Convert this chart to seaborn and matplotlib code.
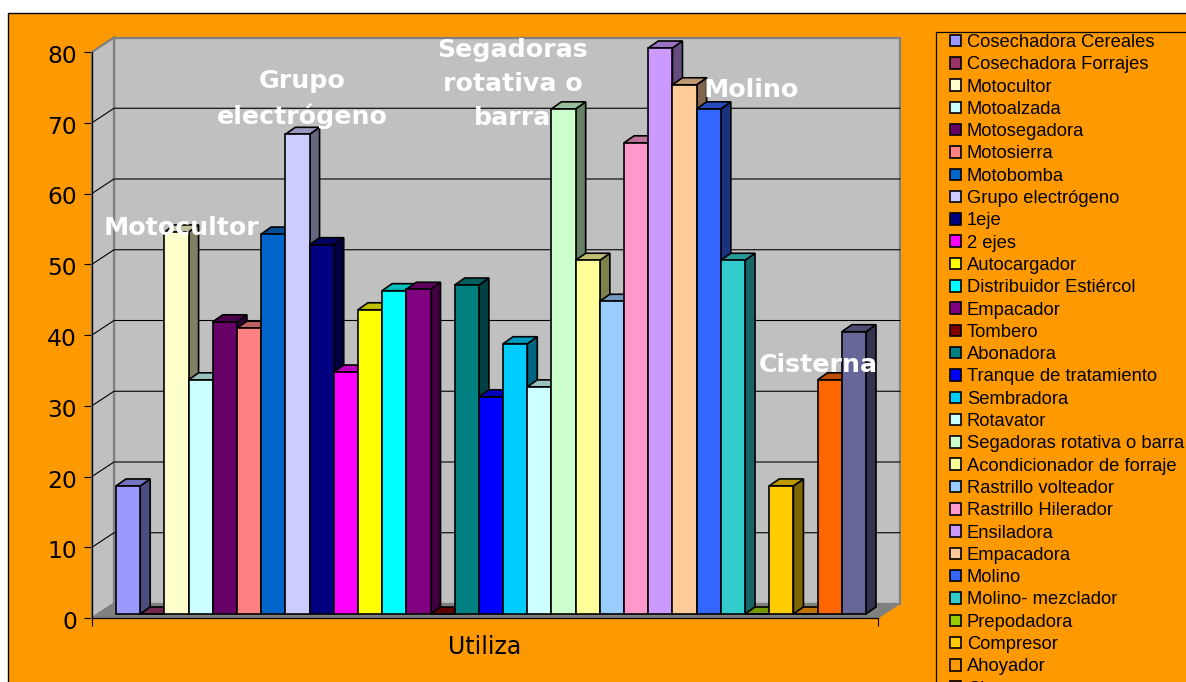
import matplotlib
matplotlib.use("Agg")
import matplotlib.pyplot as plt
from matplotlib.patches import Polygon, Rectangle
from matplotlib.transforms import Affine2D
import pandas as pd
import seaborn as sns

machines = ["Cosechadora Cereales", "Cosechadora Forrajes", "Motocultor", "Motoalzada",
            "Motosegadora", "Motosierra", "Motobomba", "Grupo electrógeno", "1eje", "2 ejes",
            "Autocargador", "Distribuidor Estiércol", "Empacador", "Tombero", "Abonadora",
            "Tranque de tratamiento", "Sembradora", "Rotavator", "Segadoras rotativa o barra",
            "Acondicionador de forraje", "Rastrillo volteador", "Rastrillo Hilerador",
            "Ensiladora", "Empacadora", "Molino", "Molino- mezclador", "Prepodadora",
            "Compresor", "Ahoyador", "Cisterna", "Peladora de Almendras"]
values = [18.1, 0, 54, 33.1, 41.3, 40.4, 53.7, 67.8, 52.2, 34.2, 43, 45.7, 45.9, 0, 46.5,
          30.7, 38.2, 32.1, 71.4, 50, 44.2, 66.6, 80, 74.8, 71.4, 50, 0, 18.1, 0, 33.1, 39.9]
colors = ["#9999FF", "#993366", "#FFFFCC", "#CCFFFF", "#660066", "#FF8080", "#0066CC", "#CCCCFF",
          "#000080", "#FF00FF", "#FFFF00", "#00FFFF", "#800080", "#800000", "#008080", "#0000FF",
          "#00CCFF", "#CCFFFF", "#CCFFCC", "#FFFF99", "#99CCFF", "#FF99CC", "#CC99FF", "#FFCC99",
          "#3366FF", "#33CCCC", "#99CC00", "#FFCC00", "#FF9900", "#FF6600", "#666699"]
group_label = "Utiliza"
y_ticks = list(range(0, 90, 10))

W, H = 1186, 682
ORANGE = "#FF9900"
GREY = "#C0C0C0"
DARK = "#808080"

sns.set_theme(style="white")
fig = plt.figure(figsize=(W / 100, H / 100), dpi=100, facecolor="white")
fig.add_artist(Rectangle((8 / W, -0.05), 1.1, (682 - 13) / H + 0.05, transform=fig.transFigure,
                         facecolor=ORANGE, edgecolor="black", linewidth=1.0, zorder=-5))
fig.add_artist(Rectangle((936 / W, -0.05), 0.3, (682 - 32) / H + 0.05, transform=fig.transFigure,
                         facecolor="none", edgecolor="black", linewidth=0.9, zorder=-4))

ax = fig.add_axes([92 / W, (H - 618) / H, 786 / W, 566 / H])
ax.set_facecolor("none")

df = pd.DataFrame({"group": [group_label] * len(machines), "machine": machines, "value": values})
sns.barplot(data=df, x="group", y="value", hue="machine", hue_order=machines, palette=colors,
            width=750 / 786, saturation=1, errorbar=None, ax=ax, legend=True)

ax.set_xlim(-0.5, 0.5)
ax.set_ylim(0, 80)
px_x, px_y = 1 / 786, 80 / 566  # data units per pixel

# wall and floor of the pseudo 3D box
wx, wy = 22 * px_x, 14.5 * px_y
ax.add_patch(Rectangle((-0.5 + wx, wy), 1, 80, facecolor=GREY, edgecolor=DARK, linewidth=1.6,
                       zorder=0.5, clip_on=False))
ax.add_patch(Polygon([(-0.5, 0), (-0.5 + wx, wy), (-0.5 + wx, 80 + wy), (-0.5, 80)],
                     facecolor=GREY, edgecolor=DARK, linewidth=1.6, zorder=0.6, clip_on=False))
ax.add_patch(Polygon([(-0.5, 0), (-0.5 + wx, wy), (0.5 + wx, wy), (0.5, 0)],
                     facecolor=DARK, edgecolor=DARK, linewidth=0.8, zorder=0.7, clip_on=False))
for v in y_ticks[1:-1]:
    ax.plot([-0.5, -0.5 + wx, 0.5 + wx], [v, v + wy, v + wy], color="black", lw=0.8,
            zorder=0.8, clip_on=False)


def shade(color, f):
    r, g, b = matplotlib.colors.to_rgb(color)
    return (r * f, g * f, b * f)


# bars with their side and top faces
bx, by = 6 * px_x, 4 * px_y
dx, dy = 10 * px_x, 7 * px_y
bar_tf = Affine2D().translate(bx, by) + ax.transData
for i, (container, color) in enumerate(zip(ax.containers, colors)):
    bar = container[0]
    x0, x1, top = bar.get_x(), bar.get_x() + bar.get_width(), bar.get_height()
    z = 2 + i * 0.01
    side = Polygon([(x1, 0), (x1 + dx, dy), (x1 + dx, top + dy), (x1, top)], facecolor=shade(color, 0.5))
    cap = Polygon([(x0, top), (x0 + dx, top + dy), (x1 + dx, top + dy), (x1, top)], facecolor=shade(color, 0.75))
    for face in (side, cap):
        face.set(edgecolor="black", linewidth=1.2, transform=bar_tf, zorder=z, clip_on=False)
        ax.add_patch(face)
    bar.set(transform=bar_tf, edgecolor="black", linewidth=1.2, zorder=z + 0.005, clip_on=False)

# axes
for s in ("top", "right"):
    ax.spines[s].set_visible(False)
for s in ("left", "bottom"):
    ax.spines[s].set(color="black", linewidth=0.9, zorder=1)
ax.set_yticks(y_ticks)
ax.set_xticks([-0.5, 0.5], minor=True)
ax.tick_params(axis="y", which="major", left=True, length=5.8, width=0.8, pad=5,
               labelsize=16.8, labelcolor="black", color="black")
ax.tick_params(axis="x", which="minor", bottom=True, length=5.8, width=0.8, color="black")
ax.tick_params(axis="x", which="major", bottom=False, length=0, pad=12.5, labelsize=17, labelcolor="black")
for lab in ax.get_yticklabels() + ax.get_xticklabels():
    lab.set_fontfamily("DejaVu Sans")
for tick in ax.yaxis.get_major_ticks():
    tick.label1.set_transform(tick.label1.get_transform() + Affine2D().translate(0, -2))
ax.set_xlabel("")
ax.set_ylabel("")

# legend
leg = ax.legend(loc="upper left", bbox_to_anchor=(950 / W, (H - 34) / H),
                bbox_transform=fig.transFigure, ncol=1, frameon=False,
                labelcolor="black",
                prop={"family": "Liberation Sans", "size": 13.2},
                handlelength=0.59, handleheight=0.59, handletextpad=0.33,
                labelspacing=0.289, borderpad=0, borderaxespad=0)
leg.set_zorder(10)
for h in leg.legend_handles:
    h.set(edgecolor="black", linewidth=1.2)

# chart annotations
notes = [("Motocultor", 182, 228), ("Grupo\nelectrógeno", 302, 99),
         ("Segadoras\nrotativa o\nbarra", 513, 84), ("Molino", 751, 90), ("Cisterna", 818, 365)]
for txt, x, y in notes:
    fig.text(x / W, (H - y) / H, txt, color="white", fontsize=18.2, fontweight="bold",
             family="DejaVu Sans", ha="center", va="center", linespacing=1.53, zorder=20)

fig.savefig("out.png", dpi=100)
